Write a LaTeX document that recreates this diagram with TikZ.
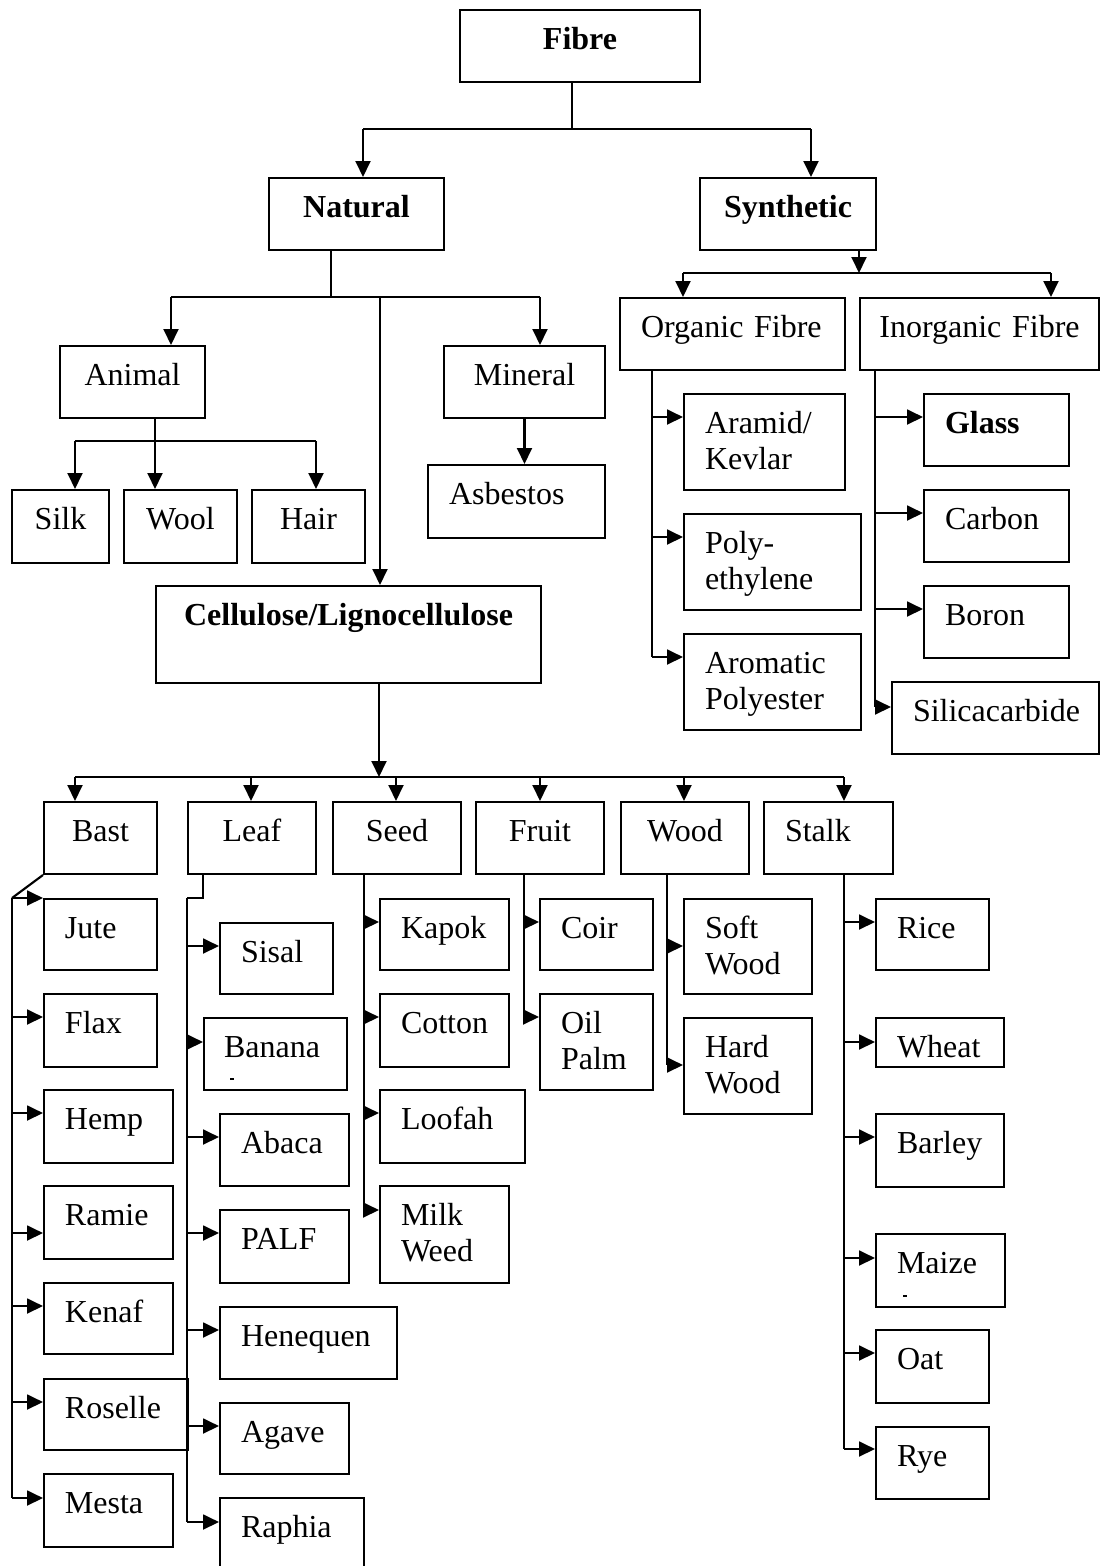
\documentclass[tikz,border=0pt]{standalone}
\usepackage{fontspec}
\setmainfont{Liberation Serif}
\usetikzlibrary{arrows.meta,calc}
\hyphenpenalty=10000
\exhyphenpenalty=10000
\tikzset{
  tbox/.style 2 args={draw, line width=0.75pt, anchor=north west, align=left,
    inner xsep=21*0.375pt, inner ysep=0pt, text width=(#1-42)*0.375pt,
    text height=39*0.375pt, text depth=(#2-39)*0.375pt,
    font=\fontsize{12}{13.8}\selectfont},
  cbox/.style 2 args={tbox={#1}{#2}, align=center, inner xsep=3pt, text width=#1*0.375pt-6pt},
  ln/.style={line width=0.8pt},
  arr/.style={line width=0.8pt, -{Triangle[length=6pt,width=5.6pt]}},
}
\begin{document}
\begin{tikzpicture}[x=0.375pt,y=0.375pt,yscale=-1,xscale=1]
\useasboundingbox (0,0) rectangle (1099,1566);
%Top levels
\node[cbox={240}{72}] (fibre) at (459,9) {\bfseries Fibre};
\node[cbox={175}{72}] (natural) at (268,177) {\bfseries Natural};
\node[cbox={176}{72}] (synthetic) at (699,177) {\bfseries Synthetic};
%Natural branch
\node[cbox={145}{72}] (animal) at (59,345) {Animal};
\node[cbox={161}{72}] (mineral) at (443,345) {Mineral};
\node[tbox={177}{73}] (asbestos) at (427,464) {Asbestos};
\node[cbox={97}{73}] (silk) at (11,489) {Silk};
\node[cbox={113}{73}] (wool) at (123,489) {Wool};
\node[cbox={113}{73}] (hair) at (251,489) {Hair};
\node[cbox={385}{97}] (cellulose) at (155,585) {\bfseries Cellulose/Lignocellulose};
%Synthetic branch
\node[tbox={225}{72}] (organic) at (619,297) {Organic Fibre};
\node[cbox={239}{72}] (inorganic) at (859,297) {Inorganic Fibre};
\node[tbox={161}{96}] (aramid) at (683,393) {Aramid/\\Kevlar};
\node[tbox={177}{96}] (polyeth) at (683,513) {Poly-\\ethylene};
\node[tbox={177}{96}] (aromatic) at (683,633) {Aromatic\\Polyester};
\node[tbox={145}{72}] (glass) at (923,393) {\bfseries Glass};
\node[tbox={145}{72}] (carbon) at (923,489) {Carbon};
\node[tbox={145}{72}] (boron) at (923,585) {Boron};
\node[tbox={207}{72}] (silica) at (891,681) {Silicacarbide};
%Plant fibre groups
\node[cbox={113}{72}] (bast) at (43,801) {Bast};
\node[cbox={128}{72}] (leaf) at (187,801) {Leaf};
\node[cbox={128}{72}] (seed) at (332,801) {Seed};
\node[cbox={128}{72}] (fruit) at (475,801) {Fruit};
\node[cbox={128}{72}] (wood) at (620,801) {Wood};
\node[tbox={129}{72}] (stalk) at (763,801) {Stalk};
%Bast
\node[tbox={113}{71}] (jute) at (43,898) {Jute};
\node[tbox={113}{73}] (flax) at (43,993) {Flax};
\node[tbox={129}{73}] (hemp) at (43,1089) {Hemp};
\node[tbox={129}{73}] (ramie) at (43,1185) {Ramie};
\node[tbox={129}{71}] (kenaf) at (43,1282) {Kenaf};
\node[tbox={144}{71}] (roselle) at (43,1378) {Roselle};
\node[tbox={129}{73}] (mesta) at (43,1473) {Mesta};
%Leaf
\node[tbox={113}{71}] (sisal) at (219,922) {Sisal};
\node[tbox={145}{72}, inner xsep=20*0.375pt] (banana) at (203,1017) {Banana};
\node[tbox={129}{72}] (abaca) at (219,1113) {Abaca};
\node[tbox={129}{73}] (palf) at (219,1209) {PALF};
\node[tbox={177}{72}] (henequen) at (219,1306) {Henequen};
\node[tbox={129}{71}] (agave) at (219,1402) {Agave};
\node[tbox={144}{80}] (raphia) at (219,1497) {Raphia};
%Seed
\node[tbox={129}{71}] (kapok) at (379,898) {Kapok};
\node[tbox={129}{73}] (cotton) at (379,993) {Cotton};
\node[tbox={145}{73}] (loofah) at (379,1089) {Loofah};
\node[tbox={129}{97}] (milkweed) at (379,1185) {Milk\\Weed};
%Fruit
\node[tbox={113}{71}] (coir) at (539,898) {Coir};
\node[tbox={113}{96}] (oilpalm) at (539,993) {Oil\\Palm};
%Wood
\node[tbox={128}{95}] (softwood) at (683,898) {Soft\\Wood};
\node[tbox={128}{96}] (hardwood) at (683,1017) {Hard\\Wood};
%Stalk
\node[tbox={113}{71}] (rice) at (875,898) {Rice};
\node[tbox={128}{49}] (wheat) at (875,1017) {Wheat};
\node[tbox={128}{73}] (barley) at (875,1113) {Barley};
\node[tbox={129}{73}] (maize) at (875,1233) {Maize};
\node[tbox={113}{73}] (oat) at (875,1329) {Oat};
\node[tbox={113}{72}] (rye) at (875,1426) {Rye};
%stray marks
\draw[line width=0.5pt] ($(banana.north west)+(27,62)$) -- ++(4,0);
\draw[line width=0.5pt] ($(maize.north west)+(28,63)$) -- ++(4,0);

%Fibre split
\coordinate (fBus) at (572,129);
\coordinate (fL) at (363,129);
\coordinate (fR) at (811,129);
\draw[ln] (fBus |- fibre.south) -- (fBus);
\draw[ln] (fL) -- (fR);
\draw[arr] (fL) -- (fL |- natural.north);
\draw[arr] (fR) -- (fR |- synthetic.north);
%Natural split
\coordinate (nBus) at (331,297);
\coordinate (nL) at (171,297);
\coordinate (nR) at (540,297);
\coordinate (nC) at (380,297);
\draw[ln] (nBus |- natural.south) -- (nBus);
\draw[ln] (nL) -- (nR);
\draw[arr] (nL) -- (nL |- animal.north);
\draw[arr] (nR) -- (nR |- mineral.north);
\draw[arr] (nC) -- (nC |- cellulose.north);
%Animal split
\coordinate (aL) at (75,441);
\coordinate (aM) at (155,441);
\coordinate (aR) at (316,441);
\draw[ln] (aL) -- (aR);
\draw[arr] (aM |- animal.south) -- (aM |- wool.north);
\draw[arr] (aL) -- (aL |- silk.north);
\draw[arr] (aR) -- (aR |- hair.north);
\draw[arr] (mineral.south) -- (mineral.south |- asbestos.north);
%Synthetic split
\coordinate (sBus) at (859,273);
\coordinate (sL) at (683,273);
\coordinate (sR) at (1051,273);
\draw[arr] (sBus |- synthetic.south) -- (sBus);
\draw[ln] (sL) -- (sR);
\draw[arr] (sL) -- (sL |- organic.north);
\draw[arr] (sR) -- (sR |- inorganic.north);
%Organic
\coordinate (oT) at (652,0);
\foreach \n/\o in {aramid/24,polyeth/24,aromatic/24}{
  \coordinate (\n-in) at ($(\n.north west)+(0,\o)$);
  \draw[arr] (oT |- \n-in) -- (\n-in);
}
\draw[ln] (oT |- organic.south) -- (oT |- aromatic-in);
%Inorganic
\coordinate (iT) at (875,0);
\foreach \n/\o in {glass/24,carbon/24,boron/24,silica/26}{
  \coordinate (\n-in) at ($(\n.north west)+(0,\o)$);
  \draw[arr] (iT |- \n-in) -- (\n-in);
}
\draw[ln] (iT |- inorganic.south) -- (iT |- silica-in);
%Cellulose split
\coordinate (cBus) at (379,777);
\draw[arr] (cBus |- cellulose.south) -- (cBus);
\foreach \n/\d in {bast/32,leaf/64,seed/64,fruit/65,wood/64,stalk/81}{
  \coordinate (\n-top) at ($(\n.north west)+(\d,0)$);
  \draw[arr] (cBus -| \n-top) -- (\n-top);
}
\draw[ln] (cBus -| bast-top) -- (cBus -| stalk-top);
%Bast
\coordinate (bT) at (12,898);
\draw[ln] (bast.south west) -- (bT);
\foreach \n/\o in {jute/0,flax/24,hemp/24,ramie/48,kenaf/24,roselle/24,mesta/25}{
  \coordinate (\n-in) at ($(\n.north west)+(0,\o)$);
  \draw[arr] (bT |- \n-in) -- (\n-in);
}
\draw[ln] (bT) -- (bT |- mesta-in);
%Leaf
\coordinate (lT) at (187,898);
\draw[ln] ($(leaf.south west)+(16,0)$) |- (lT);
\foreach \n/\o in {sisal/24,banana/25,abaca/24,palf/24,henequen/24,agave/24,raphia/25}{
  \coordinate (\n-in) at ($(\n.north west)+(0,\o)$);
  \draw[arr] (lT |- \n-in) -- (\n-in);
}
\draw[ln] (lT) -- (lT |- raphia-in);
%Seed
\coordinate (sdT) at (364,0);
\foreach \n/\o in {kapok/24,cotton/24,loofah/24,milkweed/25}{
  \coordinate (\n-in) at ($(\n.north west)+(0,\o)$);
  \draw[arr] (sdT |- \n-in) -- (\n-in);
}
\draw[ln] (sdT |- seed.south) -- (sdT |- milkweed-in);
%Fruit
\coordinate (frT) at (524,0);
\foreach \n/\o in {coir/24,oilpalm/24}{
  \coordinate (\n-in) at ($(\n.north west)+(0,\o)$);
  \draw[arr] (frT |- \n-in) -- (\n-in);
}
\draw[ln] (frT |- fruit.south) -- (frT |- oilpalm-in);
%Wood
\coordinate (wT) at (667,0);
\foreach \n/\o in {softwood/48,hardwood/48}{
  \coordinate (\n-in) at ($(\n.north west)+(0,\o)$);
  \draw[arr] (wT |- \n-in) -- (\n-in);
}
\draw[ln] (wT |- wood.south) -- (wT |- hardwood-in);
%Stalk
\coordinate (kT) at (844,0);
\foreach \n/\o in {rice/24,wheat/25,barley/24,maize/25,oat/24,rye/23}{
  \coordinate (\n-in) at ($(\n.north west)+(0,\o)$);
  \draw[arr] (kT |- \n-in) -- (\n-in);
}
\draw[ln] (kT |- stalk.south) -- (kT |- rye-in);
\end{tikzpicture}
\end{document}
